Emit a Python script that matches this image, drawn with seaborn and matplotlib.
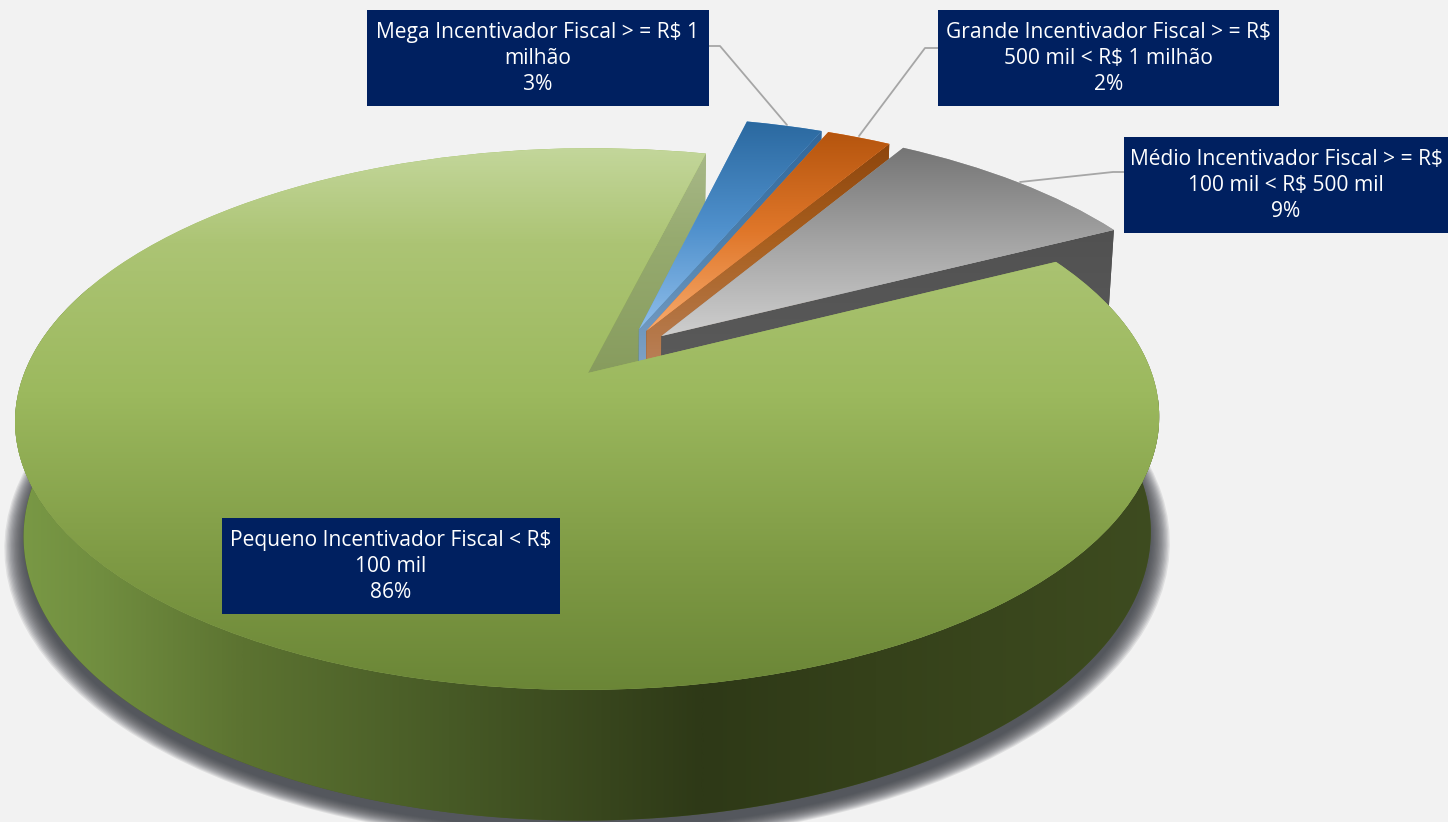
import numpy as np
import matplotlib
matplotlib.use("Agg")
import matplotlib.pyplot as plt
import seaborn as sns
from matplotlib.colors import LinearSegmentedColormap
from matplotlib.patches import Polygon, Rectangle, Wedge
from matplotlib.transforms import Transform

categories = ["Mega Incentivador Fiscal > = R$ 1\nmilhão",
              "Grande Incentivador Fiscal > = R$\n500 mil < R$ 1 milhão",
              "Médio Incentivador Fiscal > = R$\n100 mil < R$ 500 mil",
              "Pequeno Incentivador Fiscal < R$\n100 mil"]
shares = [2.6, 2.2, 8.9, 86.3]

sns.set_theme(style="white")
plt.rcParams["font.family"] = ["Open Sans", "DejaVu Sans"]
BG = "#f2f2f2"
NAVY = "#002060"
LEADER = "#a6a6a6"
base_colors = sns.color_palette(["#5b9bd5", "#ed7d31", "#a5a5a5", "#9bbb59"])


class Projection(Transform):
    """Perspective view of the pie: z=0 is the top face, z=1 the base."""
    input_dims = 2
    output_dims = 2
    is_affine = False
    has_inverse = False
    CX, CY, SX, SY, SH, K, M, SZ = 588.0, 373.0, 563.7, 263.0, 5.0, 0.17, 0.0146, 115.0

    def __init__(self, z=0.0):
        super().__init__()
        self.z = z

    def transform_non_affine(self, values):
        values = np.asarray(values, dtype=float)
        x, y = values[:, 0], values[:, 1]
        w = 1 + self.K * y + self.M * self.z
        u = self.CX + (self.SX * x + self.SH * y) / w
        v = self.CY - (self.SY * y - self.SZ * self.z) / w
        return np.column_stack([u, v])


def gradient(ax, clip, stops, extent, vertical=True, zorder=2):
    pos, cols = zip(*stops)
    cmap = LinearSegmentedColormap.from_list("g", list(zip(pos, cols)))
    ramp = np.linspace(0, 1, 512)
    data = ramp[:, None] if vertical else ramp[None, :]
    im = ax.imshow(data, cmap=cmap, vmin=0, vmax=1, extent=extent, origin="upper",
                   aspect="auto", interpolation="bilinear", zorder=zorder)
    im.set_clip_path(clip)
    return im


W, H = 1448, 822
fig = plt.figure(figsize=(W / 100, H / 100), dpi=100, facecolor=BG)
ax = fig.add_axes([0, 0, 1, 1], facecolor=BG)

start = 76.4
explode = 0.098
total = sum(shares)
green_mid = np.radians(start - 360 * (sum(shares[:3]) + shares[3] / 2) / total)
center = (-explode * np.cos(green_mid), -explode * np.sin(green_mid))

wedges, _ = ax.pie(shares, startangle=start, counterclock=False, radius=1.0,
                   center=center, explode=[explode] * len(shares),
                   colors=base_colors, frame=False)
ax.set_aspect("auto")

top = Projection(0.0)
base = Projection(1.0)
for wg in wedges:
    wg.set_transform(top + ax.transData)
    wg.set_linewidth(0)


def rim(wg, theta, r=1.0):
    t = np.radians(theta)
    return np.array([wg.center[0] + r * np.cos(t), wg.center[1] + r * np.sin(t)]).T


def radial_face(wg, theta):
    """Cut face of a slice running from its apex to its rim at angle theta."""
    apex = np.array([wg.center])
    edge = rim(wg, np.array([theta]), wg.r)
    return np.vstack([top.transform_non_affine(apex), top.transform_non_affine(edge),
                      base.transform_non_affine(edge), base.transform_non_affine(apex)])


# soft shadow under the base
shadow_level = Projection(1.07)
for r in np.linspace(1.034, 1.0, 16):
    shadow = Wedge((0, 0), r, 0, 360, facecolor="#3c3f46", alpha=0.11, linewidth=0, zorder=1)
    ax.add_patch(shadow)
    shadow.set_transform(shadow_level + ax.transData)

g = wedges[3]
# green cut face behind the small slices
poly = Polygon(radial_face(g, g.theta1), closed=True, facecolor="#8fa566", linewidth=0, zorder=2)
ax.add_patch(poly)
gradient(ax, poly, [(0, "#a9b98a"), (0.35, "#97ab70"), (1, "#84995a")], (580, 720, 400, 150), zorder=2)

# green outer wall
thetas = np.linspace(-200, g.theta2, 400)
wall = np.vstack([top.transform_non_affine(rim(g, thetas)),
                  base.transform_non_affine(rim(g, thetas[::-1]))])
wall_patch = Polygon(wall, closed=True, facecolor="#4a5a28", linewidth=0, zorder=3)
ax.add_patch(wall_patch)
gradient(ax, wall_patch,
         [(0, "#7a9a46"), (0.08, "#708d3f"), (0.2, "#5c7331"), (0.38, "#475a26"),
          (0.6, "#2e3917"), (0.75, "#35411a"), (1, "#3e4c20")],
         (10, 1165, 830, 400), vertical=False, zorder=3)

face_styles = [
    [(0, "#2e6499"), (0.5, "#4d80ad"), (1, "#7fa2c6")],
    [(0, "#873f08"), (0.5, "#a9601f"), (1, "#b98058")],
    [(0, "#4a4a4a"), (1, "#5a5a5a")],
]
top_styles = [
    [(0, "#2a689f"), (0.5, "#4f90cc"), (1, "#92c0ec")],
    [(0, "#b4540d"), (0.5, "#e0772a"), (1, "#f8ad70")],
    [(0, "#737373"), (0.5, "#a4a4a4"), (1, "#d0d0d0")],
]
extents = [(620, 1130, 335, 120), (620, 1130, 335, 130), (620, 1130, 340, 145)]
for i in range(3):
    wg = wedges[i]
    z0 = 4 + i * 2
    pts = radial_face(wg, wg.theta1)
    poly = Polygon(pts, closed=True, facecolor=face_styles[i][0][1], linewidth=0, zorder=z0)
    ax.add_patch(poly)
    gradient(ax, poly, face_styles[i], (620, 1130, 365, 120), zorder=z0)
    wg.set_zorder(z0 + 1)
    gradient(ax, wg, top_styles[i], extents[i], zorder=z0 + 1)

# green top face on top of everything so it hides the far cut faces
g.set_zorder(11)
gradient(ax, g,
         [(0, "#c4d79c"), (0.18, "#acc474"), (0.45, "#9cb95e"), (0.75, "#7f9b45"), (1, "#6a8536")],
         (0, 1170, 695, 145), zorder=11)

# leader lines
leaders = [([709, 720, 787], [46, 46, 125]),
           ([938, 925, 859], [48, 48, 136]),
           ([1124, 1113, 1020], [172, 172, 182])]
for xs, ys in leaders:
    ax.plot(xs, ys, color=LEADER, lw=1.3, zorder=3, solid_joinstyle="round")

# label boxes
boxes = [(367, 10, 709, 106), (938, 10, 1279, 106), (1124, 137, 1448, 233), (222, 518, 560, 614)]
for (x0, y0, x1, y1), cat, val in zip(boxes, categories, shares):
    ax.add_patch(Rectangle((x0, y0), x1 - x0, y1 - y0, facecolor=NAVY, linewidth=0, zorder=20))
    ax.text((x0 + x1) / 2, (y0 + y1) / 2 + 0.5, f"{cat}\n{val:.0f}%", color="white", ha="center",
            va="center", fontsize=15.1, linespacing=1.34, zorder=21)

ax.set_xlim(0, W)
ax.set_ylim(H, 0)
ax.axis("off")
fig.savefig("out.png", dpi=100, facecolor=BG)
